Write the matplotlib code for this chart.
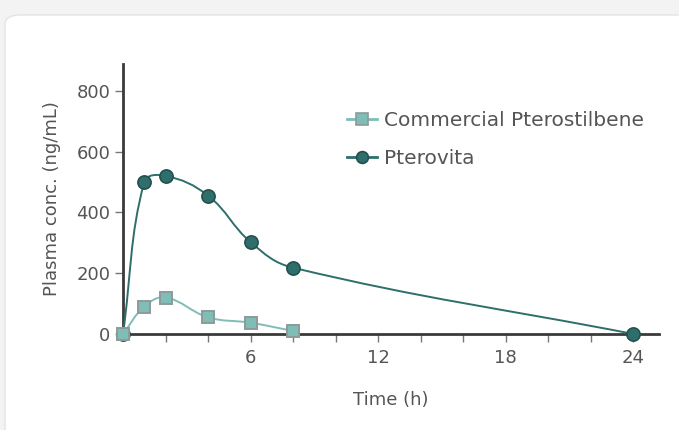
import numpy as np
import matplotlib
matplotlib.use("Agg")
import matplotlib.pyplot as plt
from matplotlib.path import Path
from matplotlib.patches import PathPatch, FancyBboxPatch
from matplotlib.lines import Line2D

# data
time_pterovita = [0, 1, 2, 4, 6, 8, 24]
conc_pterovita = [0, 500, 520, 455, 302, 218, 0]
time_commercial = [0, 1, 2, 4, 6, 8]
conc_commercial = [0, 90, 120, 55, 37, 10]
series_labels = ["Commercial Pterostilbene", "Pterovita"]
x_ticks = [6, 12, 18, 24]
y_ticks = [0, 200, 400, 600, 800]

DARK = "#2e6e6b"
LIGHT = "#7fbdb7"
TEXT = "#555555"
SPINE = "#3a3a3a"

plt.rcParams["font.family"] = ["DejaVu Sans"]

XMAX, YMAX = 25.2, 888
AX_RECT = [123 / 679, 96 / 430, (659 - 123) / 679, (334 - 64) / 430]
SX = (659 - 123) / XMAX   # px per hour
SY = (334 - 64) / YMAX    # px per ng/mL


def smooth_path(xs, ys, tension=0.4):
    # bezier control points like chart.js line tension, worked out in pixel space
    px = np.array(xs, float) * SX
    py = np.array(ys, float) * SY
    n = len(px)
    cin, cout = [], []
    for i in range(n):
        p = (px[max(i - 1, 0)], py[max(i - 1, 0)])
        c = (px[i], py[i])
        q = (px[min(i + 1, n - 1)], py[min(i + 1, n - 1)])
        d01 = np.hypot(c[0] - p[0], c[1] - p[1])
        d12 = np.hypot(q[0] - c[0], q[1] - c[1])
        tot = d01 + d12
        s01 = d01 / tot if tot else 0
        s12 = d12 / tot if tot else 0
        fa, fb = tension * s01, tension * s12
        cin.append((c[0] - fa * (q[0] - p[0]), c[1] - fa * (q[1] - p[1])))
        cout.append((c[0] + fb * (q[0] - p[0]), c[1] + fb * (q[1] - p[1])))
    verts = [(px[0], py[0])]
    codes = [Path.MOVETO]
    for i in range(1, n):
        verts += [cout[i - 1], cin[i], (px[i], py[i])]
        codes += [Path.CURVE4] * 3
    verts = [(vx / SX, max(vy, 0) / SY) for vx, vy in verts]
    return Path(verts, codes)


fig = plt.figure(figsize=(6.79, 4.30), dpi=100)
fig.patch.set_facecolor("#f3f3f3")
card = FancyBboxPatch((5 / 679, -0.1), 1.2, (415 / 430) + 0.1,
                      boxstyle="round,pad=0,rounding_size=0.022",
                      transform=fig.transFigure, facecolor="white",
                      edgecolor="#e4e4e4", linewidth=1.0, zorder=-10)
fig.patches.append(card)

ax = fig.add_axes(AX_RECT)
ax.set_zorder(5)
ax.set_facecolor("none")
ax.set_xlim(0, XMAX)
ax.set_ylim(0, YMAX)

ax.add_patch(PathPatch(smooth_path(time_pterovita, conc_pterovita),
                       facecolor="none", edgecolor=DARK, lw=1.4, zorder=3))
ax.add_patch(PathPatch(smooth_path(time_commercial, conc_commercial),
                       facecolor="none", edgecolor=LIGHT, lw=1.4, zorder=3))

ax.plot(time_pterovita, conc_pterovita, linestyle="none", marker="o", ms=9.5,
        mfc=DARK, mec="#24514f", mew=1.2, zorder=5, clip_on=False)
ax.plot(time_commercial, conc_commercial, linestyle="none", marker="s", ms=9,
        mfc=LIGHT, mec="#8f9a99", mew=1.4, zorder=6, clip_on=False)

for s in ["top", "right"]:
    ax.spines[s].set_visible(False)
for s in ["left", "bottom"]:
    ax.spines[s].set_color(SPINE)
    ax.spines[s].set_linewidth(2)

ax.set_xticks(np.arange(2, 25, 2), minor=True)
ax.set_xticks(x_ticks)
ax.set_yticks(y_ticks)
ax.tick_params(axis="both", which="both", colors="#777777", labelcolor=TEXT,
               labelsize=13, length=6, width=1)
ax.tick_params(axis="x", which="both", direction="out", pad=5)
ax.tick_params(axis="y", pad=3)

ax.set_xlabel("Time (h)", fontsize=13, color=TEXT, labelpad=17)
ax.set_ylabel("Plasma conc. (ng/mL)", fontsize=13, color=TEXT, labelpad=11)

handles = [
    Line2D([], [], color=LIGHT, lw=2, marker="s", ms=8, mfc=LIGHT, mec="#8f9a99", mew=1.2),
    Line2D([], [], color=DARK, lw=2, marker="o", ms=8.5, mfc=DARK, mec="#24514f", mew=1.2),
]
leg = ax.legend(handles, series_labels, loc="upper left", bbox_to_anchor=(0.385, 0.893),
                frameon=False, fontsize=14.5, handlelength=1.45, handletextpad=0.35,
                labelspacing=0.95, labelcolor=TEXT)

fig.savefig("out.png", dpi=100, facecolor=fig.get_facecolor())
